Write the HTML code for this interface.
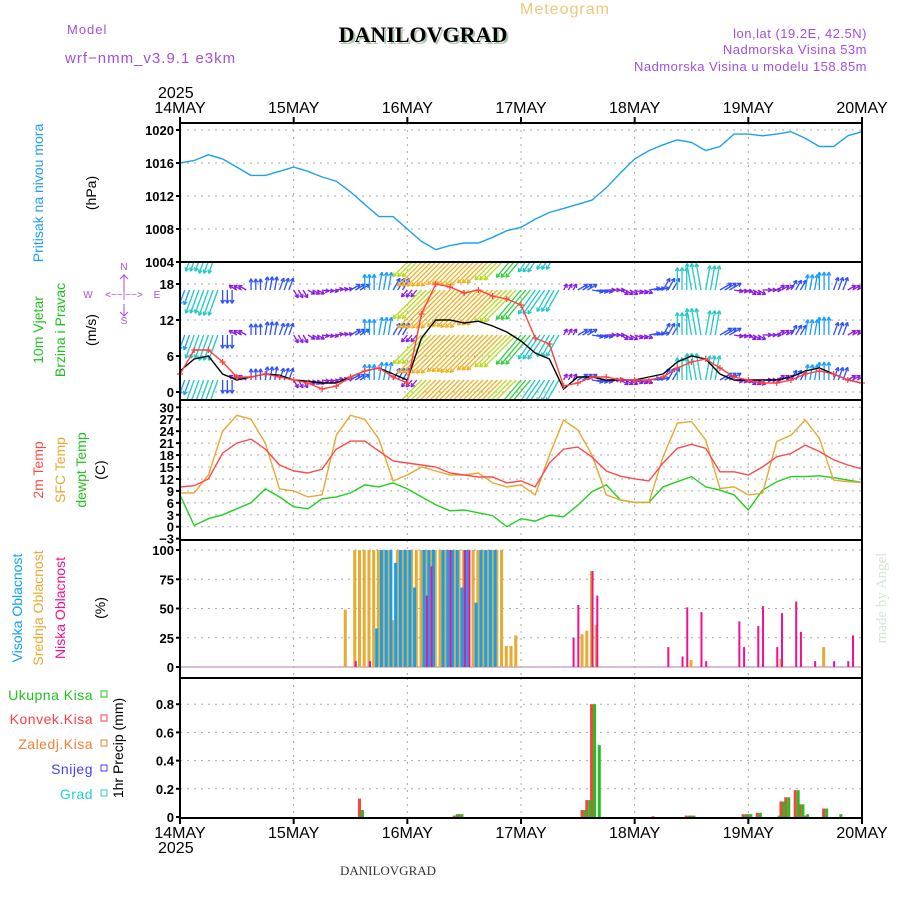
<!DOCTYPE html>
<html><head><meta charset="utf-8"><style>
html,body{margin:0;padding:0;background:#fff;}
svg{display:block;font-family:"Liberation Sans",sans-serif;}
</style></head><body>
<svg id="chart" width="900" height="900" viewBox="0 0 900 900" xmlns="http://www.w3.org/2000/svg">
<defs><clipPath id="windclip"><rect x="180" y="262" width="682" height="138"/></clipPath></defs>
<text x="520" y="14" font-size="16" fill="#f0c878" letter-spacing="1">Meteogram</text>
<text x="67" y="34" font-size="13" fill="#a050e0" letter-spacing="1">Model</text>
<text x="65" y="63" font-size="15" fill="#a050e0" letter-spacing="1">wrf−nmm_v3.9.1 e3km</text>
<text x="425" y="44" font-size="22" font-weight="bold" font-family="Liberation Serif,serif" fill="#b0c8b0" text-anchor="middle">DANILOVGRAD</text>
<text x="423" y="42" font-size="22" font-weight="bold" font-family="Liberation Serif,serif" fill="#000" text-anchor="middle">DANILOVGRAD</text>
<text x="867" y="38" font-size="13" fill="#a050e0" text-anchor="end" letter-spacing="0.5">lon,lat (19.2E, 42.5N)</text>
<text x="867" y="54" font-size="13" fill="#a050e0" text-anchor="end" letter-spacing="0.5">Nadmorska Visina 53m</text>
<text x="867" y="71" font-size="13" fill="#a050e0" text-anchor="end" letter-spacing="0.5">Nadmorska Visina u modelu 158.85m</text>
<text x="158" y="98" font-size="16" fill="#000">2025</text>
<text x="158" y="853" font-size="16" fill="#000">2025</text>
<text x="388" y="875" font-size="13" font-family="Liberation Serif,serif" fill="#333" text-anchor="middle">DANILOVGRAD</text>
<text transform="translate(886,598) rotate(-90)" font-size="15" fill="#d8e4d8" text-anchor="middle" font-family="Liberation Serif,serif">made by Angel</text>
<g id="grid"></g><g id="arrows" clip-path="url(#windclip)"></g><g id="marks"></g><g id="frames"></g><g id="labels"></g>
</svg>
<script>
const days = ["14MAY","15MAY","16MAY","17MAY","18MAY","19MAY","20MAY"];
const pressure = [1016,1016.3,1017,1016.5,1015.5,1014.5,1014.5,1015,1015.5,1015,1014.3,1013.8,1012.5,1011,1009.5,1009.5,1008,1006.5,1005.5,1006,1006.3,1006.3,1007,1007.8,1008.2,1009.2,1010,1010.5,1011,1011.5,1013,1014.8,1016.5,1017.5,1018.2,1018.8,1018.5,1017.5,1018,1019.5,1019.5,1019.3,1019.5,1019.8,1019,1018,1018,1019.3,1019.8];
const temp2m = [10,10.3,12,18.5,21,22,19.5,15.5,14,13.5,14.5,19.5,21.5,21.5,19,16.5,16,15.5,15,13.5,13,12.5,12.5,11,11.5,10,16,19.5,20,17.5,14,12.7,12,11.5,16,19.7,20.7,19.7,13.8,13.8,13,15,17.6,18.4,20.5,18.9,16.8,15.5,14.5];
const tempSfc = [8.5,8.5,13,24,28,27,21,9.5,9,7.5,8,23,28,27,22,11.5,13,15,14,13,13,13.5,11,10,10.5,8,18,26.8,24.3,18,8,6.7,6.1,6.1,17.6,26,26.4,21.8,9.6,10,8,8.4,21.4,23,26.8,22.2,11.7,11.3,11.1];
const tempDew = [8,0.3,2,3,4.5,6,9.5,7.5,5,4.5,7,7.5,8.5,10.5,10,11,9.5,7.5,5.5,4,4.2,3.5,2.8,0,2,1.4,2.9,2.5,5.4,8.8,10.5,6.7,6.1,6.1,10,11.3,12.6,10,9.2,8,4.2,9.2,11.3,12.6,12.6,12.8,12.3,11.7,11.1];
const windSpeed = [3.5,5.5,6,3,2,2.5,3,2.8,2,1.8,1.5,1.5,2.5,3.5,4,3,2,9,12,12,11.5,11.8,11,10,8.5,6.5,5.5,0.5,2.5,2.5,2,2,2,2.5,3,5,6,5.5,3,2,2,2,2,2.5,3.5,4,3,2,1.5];
const windGust = [3,7,7,5,2.5,2.5,3,2.5,2,1.5,0.5,1,2.5,3.5,4,2.5,1.5,13,18,17.5,16.5,17,16,15.5,14.5,9,8,1,1.5,2.5,2.5,2,2,2,2.5,4,5,5.5,4,2.5,2,1.5,1.5,2,3,3.5,3,2,1.5];
const windDir = [200,200,200,180,300,0,10,20,150,120,100,80,60,0,10,30,220,225,225,225,225,225,225,225,220,215,210,30,60,100,90,120,110,80,30,0,350,10,60,100,120,90,60,30,10,0,20,60,90];
const highHours = [41,42,43,44,45,46,47,48,49,51,52,53,55,56,57,58,59,60,62,63,64,65,66];
const highVals  = [33,100,100,100,89,100,100,100,68,100,100,100,100,100,100,100,68,100,55,100,100,100,100];
const midHours = [35,37,38,39,40,41,42,43,44,45,46,47,48,49,50,51,52,53,54,55,56,57,58,59,60,61,62,63,64,65,66,67,68,69,70,71,85,86,87,88,108,127,136];
const midVals  = [49,100,100,100,100,100,100,100,100,40,100,100,100,100,100,100,100,100,100,100,100,100,100,100,100,100,100,100,100,100,100,100,100,18,18,27,28,31,82,36,6,7,17];
const lowHours = [37,40,52,53,57,60,61,83,84,87,88,103,106,107,110,111,118,119,122,123,126,127,130,131,134,138,141,142];
const lowVals  = [5,5,61,86,100,100,100,25,53,82,61,17,9,51,47,5,39,17,35,52,17,46,56,30,5,5,5,27];
const rainHours = [38,58,59,85,86,87,88,100,107,108,119,120,122,126,127,128,130,131,132,136,139];
const rainTotal = [0.05,0.02,0.02,0.05,0.12,0.8,0.51,0,0.01,0.01,0.02,0.02,0.03,0.01,0.11,0.14,0.19,0.09,0.02,0.06,0.02];
const rainConv  = [0.13,0.01,0.02,0.05,0.12,0.8,0,0.005,0.01,0.01,0.02,0.02,0.03,0,0.11,0.14,0.19,0.09,0.01,0.06,0];
const pTicks = [1004,1008,1012,1016,1020];
const wTicks = [0,6,12,18];
const tTicks = [-3,0,3,6,9,12,15,18,21,24,27,30];
const cTicks = [0,25,50,75,100];
const rTicks = [0,0.2,0.4,0.6,0.8];

const NS="http://www.w3.org/2000/svg";
const L=180,R=862;
const X=h=>L+h*(R-L)/144;
const yP=v=>130+(1020-v)*8.25;
const yW=v=>392-v*6.0;
const yT=v=>526.7-v*3.98;
const yC=v=>667-v*1.17;
const yR=v=>817-v*141;
const panels=[[123,262],[262,400],[400,540],[540,678],[678,818]];
function mk(tag,attrs,parent){const e=document.createElementNS(NS,tag);for(const k in attrs)e.setAttribute(k,attrs[k]);document.getElementById(parent).appendChild(e);return e;}
function txt(s,x,y,attrs,parent){const e=mk('text',Object.assign({x:x,y:y},attrs),parent||'labels');e.textContent=s;return e;}

panels.forEach((p,i)=>{for(let d=1;d<6;d++){const g=mk('line',{x1:X(d*24),x2:X(d*24),y1:p[0],y2:p[1],stroke:'#aaa','stroke-dasharray':'2,5'},'grid');

}});
function hgrid(ticks,yf,lo,hi,fmt){ticks.forEach(t=>{const y=yf(t);if(y>lo+2&&y<hi-2){const g=mk('line',{x1:L,x2:R,y1:y,y2:y,stroke:'#aaa','stroke-dasharray':'2,5'},'grid');

}
if(y>=lo-4&&y<=hi+6){const e=txt(fmt?fmt(t):String(t).replace('-','−'),174,y+5,{'font-size':13,'text-anchor':'end',fill:'#000','font-weight':'bold'});


const tk=mk('line',{x1:L-4,x2:L,y1:y,y2:y,stroke:'#000','stroke-width':2},'frames');

}});}
hgrid(pTicks,yP,123,262);
hgrid(wTicks,yW,262,400);
hgrid(tTicks,yT,400,540);
hgrid(cTicks,yC,540,678);
hgrid(rTicks,yR,678,818,t=>t===0?'0':t.toFixed(1));

panels.forEach(p=>{const r=mk('rect',{x:L,y:p[0],width:R-L,height:p[1]-p[0],fill:'none',stroke:'#000','stroke-width':2},'frames');

});
days.forEach((d,i)=>{const x=X(i*24);
const a=txt(d,x,113,{'font-size':16,'text-anchor':'middle',fill:'#000'});


const b=txt(d,x,838,{'font-size':16,'text-anchor':'middle',fill:'#000'});


const t1=mk('line',{x1:x,x2:x,y1:117,y2:123,stroke:'#000','stroke-width':2},'frames');


const t2=mk('line',{x1:x,x2:x,y1:818,y2:824,stroke:'#000','stroke-width':2},'frames');

});

function series(arr,yf,color,name){const pts=arr.map((v,i)=>X(i*3).toFixed(1)+','+yf(v).toFixed(1)).join(' ');
const e=mk('polyline',{points:pts,fill:'none',stroke:color,'stroke-width':1.4},'marks');

return e;}
series(pressure,yP,'#1ea0f0','pressure-line');

// wind arrows: tail at row, one arrow per hour within each 3-hour sample
function wcol(s){return s<2.5?'#8a1ee0':s<3.5?'#3050ff':s<5?'#1a9cff':s<7?'#20c8c8':s<9?'#30d040':s<11?'#b8d820':s<13?'#f0b020':'#ff5030';}
[2,9.5,17,24].forEach(row=>{windSpeed.forEach((s,i)=>{for(let k=0;k<3;k++){if(i===windSpeed.length-1&&k>0)break;
const a=windDir[i]*Math.PI/180;const len=Math.max(7,s*4.5);
const x1=X(i*3+k),y1=yW(row);const x2=x1+Math.sin(a)*len,y2=y1-Math.cos(a)*len;const c=wcol(s);
const g=mk('g',{stroke:c,'stroke-width':1.3,fill:'none'},'arrows');


const ln=document.createElementNS(NS,'line');ln.setAttribute('x1',x1);ln.setAttribute('y1',y1);ln.setAttribute('x2',x2);ln.setAttribute('y2',y2);g.appendChild(ln);
const hl=4;[0.5,-0.5].forEach(o=>{const b=a+Math.PI+o;const h=document.createElementNS(NS,'line');h.setAttribute('x1',x2);h.setAttribute('y1',y2);h.setAttribute('x2',x2+Math.sin(b)*hl);h.setAttribute('y2',y2-Math.cos(b)*hl);g.appendChild(h);});}});});
series(windSpeed,yW,'#000','wind-speed-line');
series(windGust,yW,'#ff4040','wind-gust-line');
windGust.forEach((v,i)=>{const x=X(i*3),y=yW(v);const p=mk('path',{d:`M${x-3},${y}h6M${x},${y-3}v6`,stroke:'#ff4040','stroke-width':1.2},'marks');

});

series(tempDew,yT,'#20d020','dewpoint-line');
series(tempSfc,yT,'#e8a830','surface-temp-line');
series(temp2m,yT,'#ff4848','temp-2m-line');

const base=mk('line',{x1:L,x2:R,y1:667,y2:667,stroke:'#c8a8c8','stroke-width':1.5},'marks');


function bars(hours,vals,yf,color,off,w,name){hours.forEach((h,i)=>{const y=yf(vals[i]),y0=yf(0);
const b=mk('rect',{x:X(h)+off,y:Math.min(y,y0),width:w,height:Math.abs(y0-y),fill:color},'marks');

});}
bars(midHours,midVals,yC,'#e8aa30',-2,3,'mid-cloud-bar');
bars(highHours,highVals,yC,'#10a0f8',1,3,'high-cloud-bar');
bars(lowHours,lowVals,yC,'#f01090',-0.5,2,'low-cloud-bar');
bars(rainHours,rainConv,yR,'#ff4040',-2,3,'convective-rain-bar');
bars(rainHours,rainTotal,yR,'#20c020',1,3,'total-rain-bar');

function vt(s,x,y,color,size,name){const e=txt(s,0,0,{transform:`translate(${x},${y}) rotate(-90)`,'font-size':size||14,fill:color,'text-anchor':'middle'});

}
vt('Pritisak na nivou mora',43,193,'#1ea0f0',14,'pressure-axis-title');
vt('(hPa)',96,193,'#000',14,'pressure-unit');
vt('10m Vjetar',43,330,'#20c020',14,'wind-axis-title');
vt('Brzina i Pravac',65,330,'#20c020',14,'wind-axis-subtitle');
vt('(m/s)',96,330,'#000',14,'wind-unit');
vt('2m Temp',43,470,'#ff4848',14,'temp-2m-axis-title');
vt('SFC Temp',65,470,'#e8a830',14,'sfc-temp-axis-title');
vt('dewpt Temp',86,470,'#20c020',14,'dewpoint-axis-title');
vt('(C)',105,470,'#000',14,'temp-unit');
vt('Visoka Oblacnost',22,608,'#10a0f8',14,'high-cloud-axis-title');
vt('Srednja Oblacnost',43,608,'#e8aa30',14,'mid-cloud-axis-title');
vt('Niska Oblacnost',65,608,'#f01090',14,'low-cloud-axis-title');
vt('(%)',105,608,'#000',14,'cloud-unit');
vt('1hr Precip (mm)',123,748,'#000',14,'precip-axis-title');
[['Ukupna Kisa','#20c020',700],['Konvek.Kisa','#ff4040',724],['Zaledj.Kisa','#f08030',749],['Snijeg','#4040ff',774],['Grad','#20d0d0',799]].forEach(l=>{
const e=txt(l[0],93,l[2],{'font-size':14,fill:l[1],'text-anchor':'end','letter-spacing':'0.5'});


const s=mk('rect',{x:101,y:l[2]-9,width:6,height:6,fill:'none',stroke:l[1]},'labels');

});
const cp=[['N',124,270],['S',124,324],['W',88,298],['E',157,298],['<−−|−−>',124,298]];
cp.forEach(c=>{const e=txt(c[0],c[1],c[2],{'font-size':10,fill:'#a050e0','text-anchor':'middle'});

});
const cl=mk('path',{d:'M124,274v18M124,304v12M120,279l4,-4l4,4M120,312l4,4l4,-4',stroke:'#a050e0',fill:'none','stroke-width':1},'labels');


</script>
</body></html>
